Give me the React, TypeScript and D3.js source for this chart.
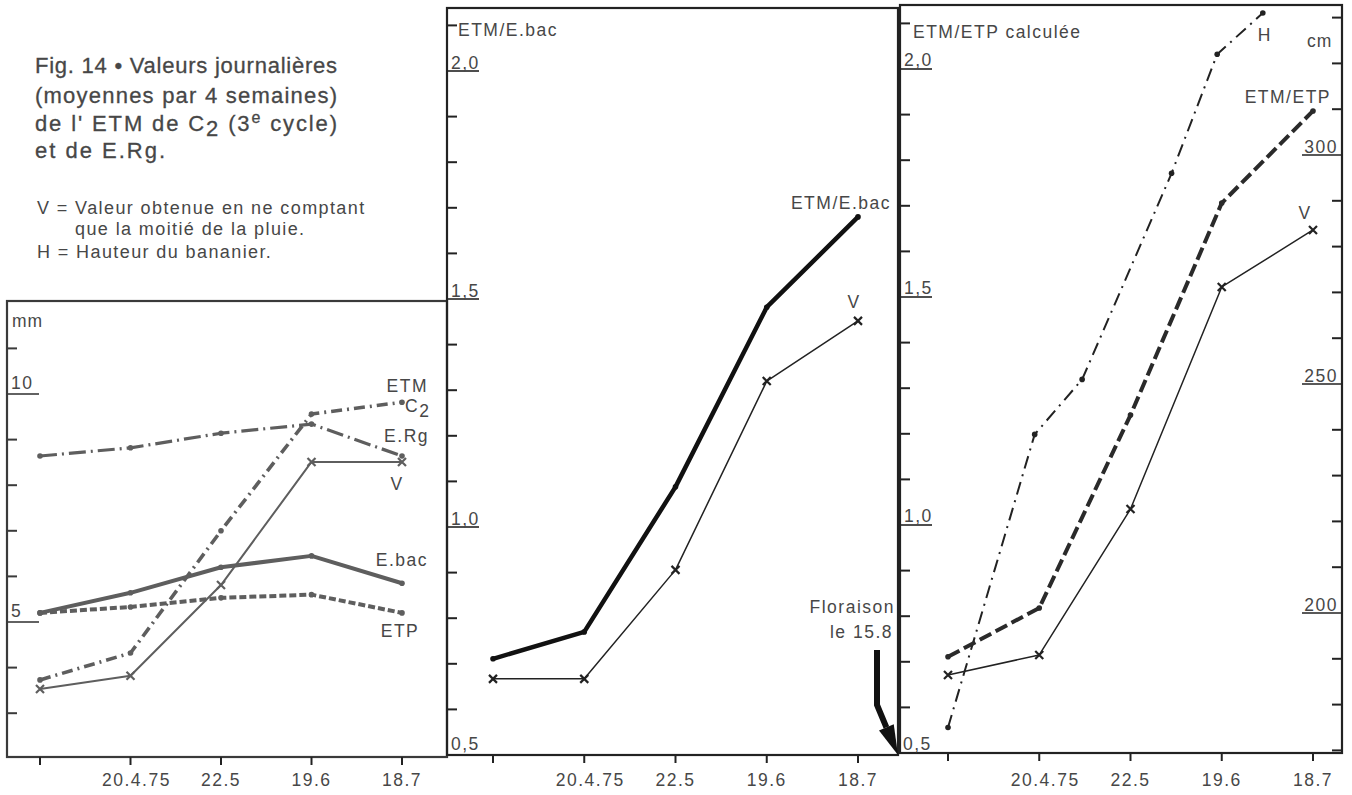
import React from 'react';
import * as d3 from 'd3';

// fins de période (moyennes par 4 semaines)
const dates = ['', '20.4.75', '22.5', '19.6', '18.7'];
const idx = [0, 1, 2, 3, 4];

// panneau gauche : mm / jour
const etmC2 = [3.73, 4.32, 7.0, 9.56, 9.82];
const eRg = [8.64, 8.82, 9.14, 9.34, 8.64];
const vLeft = [3.53, 3.82, 5.81, 8.51, 8.51];
const eBac = [5.2, 5.64, 6.2, 6.45, 5.85];
const etp = [5.2, 5.33, 5.53, 5.6, 5.2];

// panneau central : ETM/E.bac
const etmSurEbac = [0.711, 0.77, 1.088, 1.482, 1.68];
const vMid = [0.667, 0.667, 0.906, 1.32, 1.452];

// panneau droit : ETM/ETP calculée, et hauteur du bananier (cm)
const etmSurEtp = [0.711, 0.818, 1.241, 1.706, 1.908];
const vRight = [0.671, 0.715, 1.035, 1.522, 1.647];
const hauteurPos = [0, 0.95, 1.47, 2.45, 2.95, 3.45];
const hauteurCm = [175, 239, 251, 296, 322, 331];

// graduations
const mmTicks = [3, 4, 6, 7, 8, 9, 11];
const mmLabels = [5, 10];
const ratioTicks = [0.6, 0.7, 0.8, 0.9, 1.1, 1.2, 1.3, 1.4, 1.6, 1.7, 1.8, 1.9, 2.1];
const ratioLabels = [1.0, 1.5, 2.0];
const cmTicks = [170, 180, 190, 210, 220, 230, 240, 260, 270, 280, 290, 310, 320, 330];
const cmLabels = [200, 250, 300];

const FONT = "'Liberation Sans', Arial, Helvetica, sans-serif";
const INK = '#222';
const GREY = '#5e5e5e';
const TEXT = '#474747';
const FS = 17.5;
const LS = 1.5;

const left = { x0: 7, x1: 447, y0: 301, y1: 757 };
const mid = { x0: 447, x1: 898, y0: 8, y1: 755 };
const right = { x0: 900, x1: 1342, y0: 5, y1: 753 };

const comma = (v: number) => d3.format('.1f')(v).replace('.', ',');

type Sc = d3.ScaleLinear<number, number>;

function Series({ xs, ys, x, y, color, width, dash, marker }: {
  xs: number[]; ys: number[]; x: Sc; y: Sc; color: string; width: number; dash?: string; marker: 'dot' | 'cross';
}) {
  const pts: [number, number][] = xs.map((d, i) => [x(d), y(ys[i])]);
  return (
    <g>
      <path d={d3.line()(pts) || ''} fill="none" stroke={color} strokeWidth={width}
        strokeDasharray={dash} strokeLinejoin="round" />
      {pts.map(([px, py], i) => marker === 'cross'
        ? <path key={i} d={`M${px - 4},${py - 4}L${px + 4},${py + 4}M${px - 4},${py + 4}L${px + 4},${py - 4}`}
            stroke={color} strokeWidth={2.2} />
        : <circle key={i} cx={px} cy={py} r={2.8} fill={color} />)}
    </g>
  );
}

function Frame({ p, color }: { p: typeof left; color: string }) {
  return <rect x={p.x0} y={p.y0} width={p.x1 - p.x0} height={p.y1 - p.y0} fill="none" stroke={color} strokeWidth={2.2} />;
}

function LeftTicks({ x0, y, ticks, labels, fmt, color, labelDy }: {
  x0: number; y: Sc; ticks: number[]; labels: number[]; fmt: (v: number) => string; color: string; labelDy: number;
}) {
  return (
    <g stroke={color}>
      {ticks.map(t => <line key={t} x1={x0} x2={x0 + 10} y1={y(t)} y2={y(t)} strokeWidth={2} />)}
      {labels.map(t => (
        <g key={t}>
          <line x1={x0} x2={x0 + 32} y1={y(t)} y2={y(t)} strokeWidth={1.6} />
          <text x={x0 + 4} y={y(t) + labelDy} stroke="none" fill={TEXT} fontSize={FS} letterSpacing={LS}>{fmt(t)}</text>
        </g>
      ))}
    </g>
  );
}

function BottomAxis({ p, x }: { p: typeof left; x: Sc }) {
  return (
    <g>
      {idx.map(i => (
        <g key={i}>
          <line x1={x(i)} x2={x(i)} y1={p.y1} y2={p.y1 + 8} stroke={INK} strokeWidth={2} />
          <text x={x(i) + (i === 1 ? 6 : 0)} y={786} textAnchor="middle" fill={TEXT} fontSize={FS} letterSpacing={LS}>{dates[i]}</text>
        </g>
      ))}
    </g>
  );
}

export default function App() {
  const xL = d3.scaleLinear().domain([0, 4]).range([40, 402]);
  const yL = d3.scaleLinear().domain([5, 10]).range([622, 394]);
  const xM = d3.scaleLinear().domain([0, 4]).range([493, 858]);
  const yM = d3.scaleLinear().domain([0.5, 2.0]).range([755, 71]);
  const xR = d3.scaleLinear().domain([0, 4]).range([948, 1313]);
  const yR = d3.scaleLinear().domain([0.5, 2.0]).range([753, 69]);
  const yCm = d3.scaleLinear().domain([200, 300]).range([613, 155]);

  // flèche "Floraison le 15.8" vers le coin du panneau central
  const tipX = mid.x1, tipY = mid.y1;
  const kneeX = tipX - 21, kneeY = tipY - 50;
  const len = Math.hypot(tipX - kneeX, tipY - kneeY);
  const ux = (tipX - kneeX) / len, uy = (tipY - kneeY) / len;
  const bx = tipX - ux * 30, by = tipY - uy * 30;
  const head = `${tipX},${tipY} ${bx + uy * 8},${by - ux * 8} ${bx - uy * 8},${by + ux * 8}`;

  const eLast = etmC2.length - 1;

  return (
    <svg width={1352} height={795} style={{ position: 'absolute', left: 0, top: 0, background: '#fff' }} fontFamily={FONT}>
      {/* titre */}
      <g fill={TEXT} fontSize={22} stroke={TEXT} strokeWidth={0.3}>
        <text x={35} y={73} textLength={302} lengthAdjust="spacing">Fig. 14 • Valeurs journalières</text>
        <text x={35} y={103} textLength={302} lengthAdjust="spacing">(moyennes par 4 semaines)</text>
        <text x={35} y={131} textLength={302} lengthAdjust="spacing">de l' ETM de C<tspan dy={5}>2</tspan><tspan dy={-5}>  (3</tspan><tspan dy={-8} fontSize={16}>e</tspan><tspan dy={8}> cycle)</tspan></text>
        <text x={35} y={158} textLength={130} lengthAdjust="spacing">et de  E.Rg.</text>
      </g>
      <g fill={TEXT} fontSize={18} letterSpacing={1.4}>
        <text x={37} y={214}>V = Valeur obtenue en ne comptant</text>
        <text x={75} y={235}>que la moitié de la pluie.</text>
        <text x={37} y={258}>H = Hauteur du bananier.</text>
      </g>

      {/* panneau gauche */}
      <Frame p={left} color="#3a3a3a" />
      <LeftTicks x0={left.x0} y={yL} ticks={mmTicks} labels={mmLabels} fmt={v => String(v)} color="#3a3a3a" labelDy={-5} />
      <text x={12} y={327} fill={TEXT} fontSize={FS} letterSpacing={1}>mm</text>
      <BottomAxis p={left} x={xL} />
      <Series xs={idx} ys={eRg} x={xL} y={yL} color={GREY} width={3.2} dash="17 5 2 5" marker="dot" />
      <Series xs={idx} ys={eBac} x={xL} y={yL} color={GREY} width={4} marker="dot" />
      <Series xs={idx} ys={etp} x={xL} y={yL} color={GREY} width={4} dash="7 3" marker="dot" />
      <Series xs={idx} ys={etmC2} x={xL} y={yL} color={GREY} width={3.6} dash="11 5 2 5" marker="dot" />
      <Series xs={idx} ys={vLeft} x={xL} y={yL} color={GREY} width={2} marker="cross" />
      <g fill={TEXT} fontSize={FS} letterSpacing={LS}>
        <text x={xL(eLast) + 26} y={yL(etmC2[eLast]) - 10} textAnchor="end">ETM</text>
        <text x={xL(eLast) + 3} y={yL(etmC2[eLast]) + 10}>C<tspan dy={5}>2</tspan></text>
        <text x={xL(eLast) + 27} y={yL(eRg[eLast]) - 14} textAnchor="end">E.Rg</text>
        <text x={xL(eLast) - 5} y={yL(vLeft[eLast]) + 28} textAnchor="middle">V</text>
        <text x={xL(eLast) + 26} y={yL(eBac[eLast]) - 17} textAnchor="end">E.bac</text>
        <text x={xL(eLast) - 2} y={yL(etp[eLast]) + 24} textAnchor="middle">ETP</text>
      </g>

      {/* panneau central */}
      <Frame p={mid} color={INK} />
      <LeftTicks x0={mid.x0} y={yM} ticks={ratioTicks} labels={ratioLabels} fmt={comma} color={INK} labelDy={-2} />
      <text x={mid.x0 + 4} y={750} fill={TEXT} fontSize={FS} letterSpacing={LS}>0,5</text>
      <text x={458} y={36} fill={TEXT} fontSize={FS} letterSpacing={LS}>ETM/E.bac</text>
      <BottomAxis p={mid} x={xM} />
      <Series xs={idx} ys={etmSurEbac} x={xM} y={yM} color="#111" width={4.5} marker="dot" />
      <Series xs={idx} ys={vMid} x={xM} y={yM} color="#222" width={1.5} marker="cross" />
      <g fill={TEXT} fontSize={FS} letterSpacing={LS}>
        <text x={xM(4) + 33} y={yM(etmSurEbac[4]) - 8} textAnchor="end">ETM/E.bac</text>
        <text x={xM(4) - 4} y={yM(vMid[4]) - 13} textAnchor="middle">V</text>
        <text x={895} y={613} textAnchor="end">Floraison</text>
        <text x={893} y={638} textAnchor="end">le  15.8</text>
      </g>
      <polyline points={`${kneeX},${tipY - 105} ${kneeX},${kneeY} ${bx},${by}`} fill="none" stroke="#111" strokeWidth={6} strokeLinejoin="miter" />
      <polygon points={head} fill="#111" />

      {/* panneau droit */}
      <Frame p={right} color={INK} />
      <LeftTicks x0={right.x0} y={yR} ticks={ratioTicks} labels={ratioLabels} fmt={comma} color={INK} labelDy={-3} />
      <text x={right.x0 + 3} y={750} fill={TEXT} fontSize={FS} letterSpacing={LS}>0,5</text>
      <text x={913} y={38} fill={TEXT} fontSize={FS} letterSpacing={LS}>ETM/ETP calculée</text>
      <g stroke={INK}>
        {cmTicks.map(t => <line key={t} x1={right.x1 - 10} x2={right.x1} y1={yCm(t)} y2={yCm(t)} strokeWidth={2} />)}
        {cmLabels.map(t => (
          <g key={t}>
            <line x1={right.x1 - 40} x2={right.x1} y1={yCm(t)} y2={yCm(t)} strokeWidth={1.6} />
            <text x={right.x1 - 4} y={yCm(t) - 2} textAnchor="end" stroke="none" fill={TEXT} fontSize={FS} letterSpacing={LS}>{t}</text>
          </g>
        ))}
      </g>
      <text x={1307} y={47} fill={TEXT} fontSize={FS} letterSpacing={1}>cm</text>
      <BottomAxis p={right} x={xR} />
      <Series xs={hauteurPos} ys={hauteurCm} x={xR} y={yCm} color="#222" width={2} dash="13 6 2 6" marker="dot" />
      <Series xs={idx} ys={etmSurEtp} x={xR} y={yR} color="#2a2a2a" width={4} dash="13 5" marker="dot" />
      <Series xs={idx} ys={vRight} x={xR} y={yR} color="#222" width={1.5} marker="cross" />
      <g fill={TEXT} fontSize={FS} letterSpacing={LS}>
        <text x={xR(hauteurPos[5]) - 5} y={yCm(hauteurCm[5]) + 28}>H</text>
        <text x={xR(4) + 18} y={yR(etmSurEtp[4]) - 8} textAnchor="end">ETM/ETP</text>
        <text x={xR(4) - 8} y={yR(vRight[4]) - 11} textAnchor="middle">V</text>
      </g>
    </svg>
  );
}
